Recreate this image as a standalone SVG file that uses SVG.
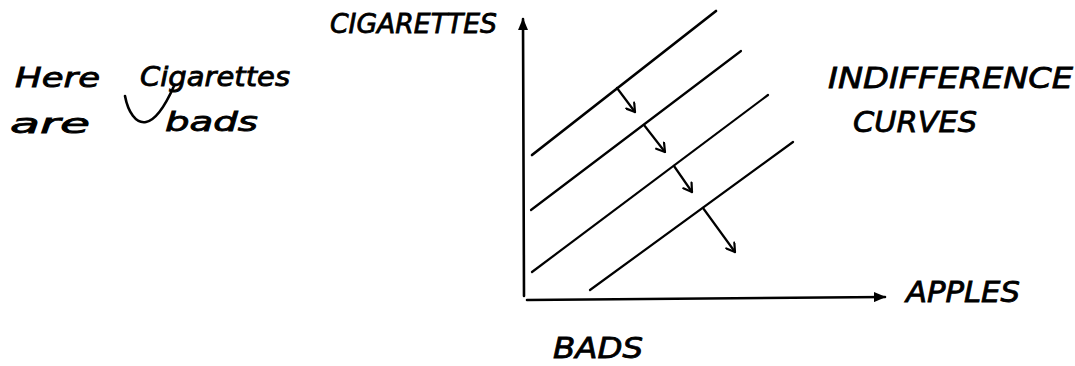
<svg xmlns="http://www.w3.org/2000/svg" width="1075" height="366" viewBox="0 0 1075 366">
  <defs>
    <style>
      .ax { stroke: #000; stroke-width: 2.6; fill: none; stroke-linecap: round; }
      .ic { stroke: #000; stroke-width: 2.2; fill: none; stroke-linecap: round; }
      .ar { stroke: #000; stroke-width: 2.2; fill: none; stroke-linecap: round; }
      .cap { font-family: "DejaVu Sans", "Liberation Sans", sans-serif; font-style: italic; fill: #000; stroke: #000; stroke-width: 0.8; }
      .hand { font-family: "DejaVu Sans", "Liberation Sans", sans-serif; font-style: italic; fill: #000; stroke: #000; stroke-width: 0.8; }
    </style>
    <marker id="axhead" viewBox="0 0 12 10" refX="11" refY="5" markerWidth="12" markerHeight="10" markerUnits="userSpaceOnUse" orient="auto">
      <path d="M0,0 L12,5 L0,10 Z" fill="#000"/>
    </marker>
    <marker id="vhead" viewBox="0 0 12 12" refX="10" refY="6" markerWidth="12" markerHeight="12" markerUnits="userSpaceOnUse" orient="auto">
      <path d="M2,1 L10,6 L2,11" fill="none" stroke="#000" stroke-width="2.2" stroke-linecap="round" stroke-linejoin="round"/>
    </marker>
  </defs>
  <rect width="1075" height="366" fill="#fff"/>

  <g id="axes">
    <line class="ax" x1="524" y1="296" x2="523" y2="19" marker-end="url(#axhead)"/>
    <line class="ax" x1="527" y1="300" x2="885" y2="297" marker-end="url(#axhead)"/>
  </g>

  <g id="curves">
    <line id="curve1" class="ic" style="stroke-width:2.7" x1="532" y1="155" x2="716" y2="11"/>
    <line id="curve2" class="ic" x1="531" y1="210" x2="741" y2="51"/>
    <line id="curve3" class="ic" x1="532" y1="272" x2="768" y2="95"/>
    <line id="curve4" class="ic" x1="590" y1="290" x2="793" y2="142"/>
  </g>

  <g id="connectors">
    <line class="ar" x1="617" y1="88" x2="635" y2="112" marker-end="url(#vhead)"/>
    <line class="ar" x1="644" y1="125" x2="665" y2="152" marker-end="url(#vhead)"/>
    <line class="ar" x1="674" y1="166" x2="692" y2="192" marker-end="url(#vhead)"/>
    <line class="ar" x1="703" y1="208" x2="735" y2="252" marker-end="url(#vhead)"/>
  </g>

  <g id="note">
    <text class="hand" x="15" y="87" font-size="26" textLength="85" lengthAdjust="spacingAndGlyphs">Here</text>
    <text class="hand" x="140" y="86" font-size="26" textLength="150" lengthAdjust="spacingAndGlyphs">Cigarettes</text>
    <text class="hand" x="10" y="133" font-size="26" textLength="80" lengthAdjust="spacingAndGlyphs">are</text>
    <path d="M125,96 C128,112 136,124 146,122 C156,120 166,104 174,86" fill="none" stroke="#000" stroke-width="2.6" stroke-linecap="round"/>
    <text class="hand" x="165" y="131" font-size="26" textLength="93" lengthAdjust="spacingAndGlyphs">bads</text>
  </g>

  <g id="labels">
    <text class="cap" x="330" y="33" font-size="27" textLength="167" lengthAdjust="spacingAndGlyphs">CIGARETTES</text>
    <text class="cap" x="828" y="88" font-size="29" textLength="245" lengthAdjust="spacingAndGlyphs">INDIFFERENCE</text>
    <text class="cap" x="853" y="132" font-size="29" textLength="124" lengthAdjust="spacingAndGlyphs">CURVES</text>
    <text class="cap" x="906" y="302" font-size="28" textLength="114" lengthAdjust="spacingAndGlyphs">APPLES</text>
    <text class="cap" x="553" y="358" font-size="28" textLength="90" lengthAdjust="spacingAndGlyphs">BADS</text>
  </g>
</svg>
